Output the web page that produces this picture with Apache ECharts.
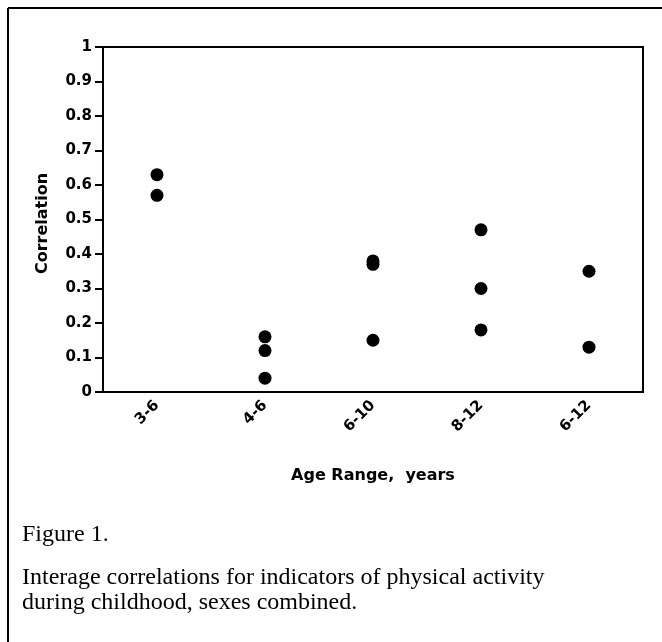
<!DOCTYPE html>
<html>
<head>
<meta charset="utf-8">
<script src="https://cdn.jsdelivr.net/npm/echarts@6/dist/echarts.min.js"></script>
<style>
  html, body { margin: 0; padding: 0; background: #fff; }
  #chart { width: 662px; height: 642px; }
</style>
</head>
<body>
<div id="chart"></div>
<script>
// age ranges on the x axis
const categories = ['3-6', '4-6', '6-10', '8-12', '6-12'];
// correlations, one array per age range
const r3to6 = [0.63, 0.57];
const r4to6 = [0.16, 0.12, 0.04];
const r6to10 = [0.38, 0.37, 0.15];
const r8to12 = [0.47, 0.30, 0.18];
const r6to12 = [0.35, 0.13];

const groups = [r3to6, r4to6, r6to10, r8to12, r6to12];
const points = [];
groups.forEach((vals, i) => {
  vals.forEach((v) => points.push([categories[i], v]));
});

const axisFont = '"DejaVu Sans", Arial, sans-serif';
const capFont = '"Liberation Serif", "Times New Roman", serif';
const chart = echarts.init(document.getElementById('chart'));

const option = {
  animation: false,
  grid: {
    left: 103,
    top: 47,
    width: 540,
    height: 345,
    show: true,
    borderColor: '#000',
    borderWidth: 2,
  },
  xAxis: {
    type: 'category',
    data: categories,
    boundaryGap: true,
    name: 'Age Range,  years',
    nameLocation: 'middle',
    nameGap: 76,
    nameTextStyle: { color: '#000', fontFamily: axisFont, fontWeight: 'bold', fontSize: 16 },
    axisLine: { lineStyle: { color: '#000', width: 2 } },
    axisTick: { alignWithLabel: true, length: 7, lineStyle: { color: '#000', width: 2 } },
    axisLabel: {
      rotate: 45,
      margin: 11,
      color: '#000',
      fontFamily: axisFont,
      fontWeight: 'bold',
      fontSize: 15,
    },
    splitLine: { show: false },
  },
  yAxis: {
    type: 'value',
    min: 0,
    max: 1,
    interval: 0.1,
    name: 'Correlation',
    nameLocation: 'middle',
    nameRotate: 90,
    nameGap: 52,
    nameTextStyle: { color: '#000', fontFamily: axisFont, fontWeight: 'bold', fontSize: 16, padding: [0, 8, 0, 0] },
    axisLine: { show: true, lineStyle: { color: '#000', width: 2 } },
    axisTick: { show: true, length: 8, lineStyle: { color: '#000', width: 2 } },
    axisLabel: {
      margin: 11,
      color: '#000',
      fontFamily: axisFont,
      fontWeight: 'bold',
      fontSize: 15,
      formatter: (v) => String(Math.round(v * 10) / 10),
    },
    splitLine: { show: false },
  },
  series: [
    {
      type: 'scatter',
      symbol: 'circle',
      symbolSize: 13,
      itemStyle: { color: '#000', opacity: 1 },
      data: points,
    },
  ],
  graphic: [
    // outer figure frame (top and left edges)
    { type: 'line', shape: { x1: 8, y1: 8, x2: 662, y2: 8 }, style: { stroke: '#000', lineWidth: 2 } },
    { type: 'line', shape: { x1: 8, y1: 8, x2: 8, y2: 642 }, style: { stroke: '#000', lineWidth: 2 } },
    {
      type: 'text',
      left: 22,
      top: 523,
      style: { text: 'Figure 1.', fill: '#000', font: '24px ' + capFont },
    },
    {
      type: 'text',
      left: 22,
      top: 565,
      style: {
        text: 'Interage correlations for indicators of physical activity\nduring childhood, sexes combined.',
        fill: '#000',
        lineHeight: 25,
        font: '24px ' + capFont,
      },
    },
  ],
};

chart.setOption(option);
</script>
</body>
</html>
